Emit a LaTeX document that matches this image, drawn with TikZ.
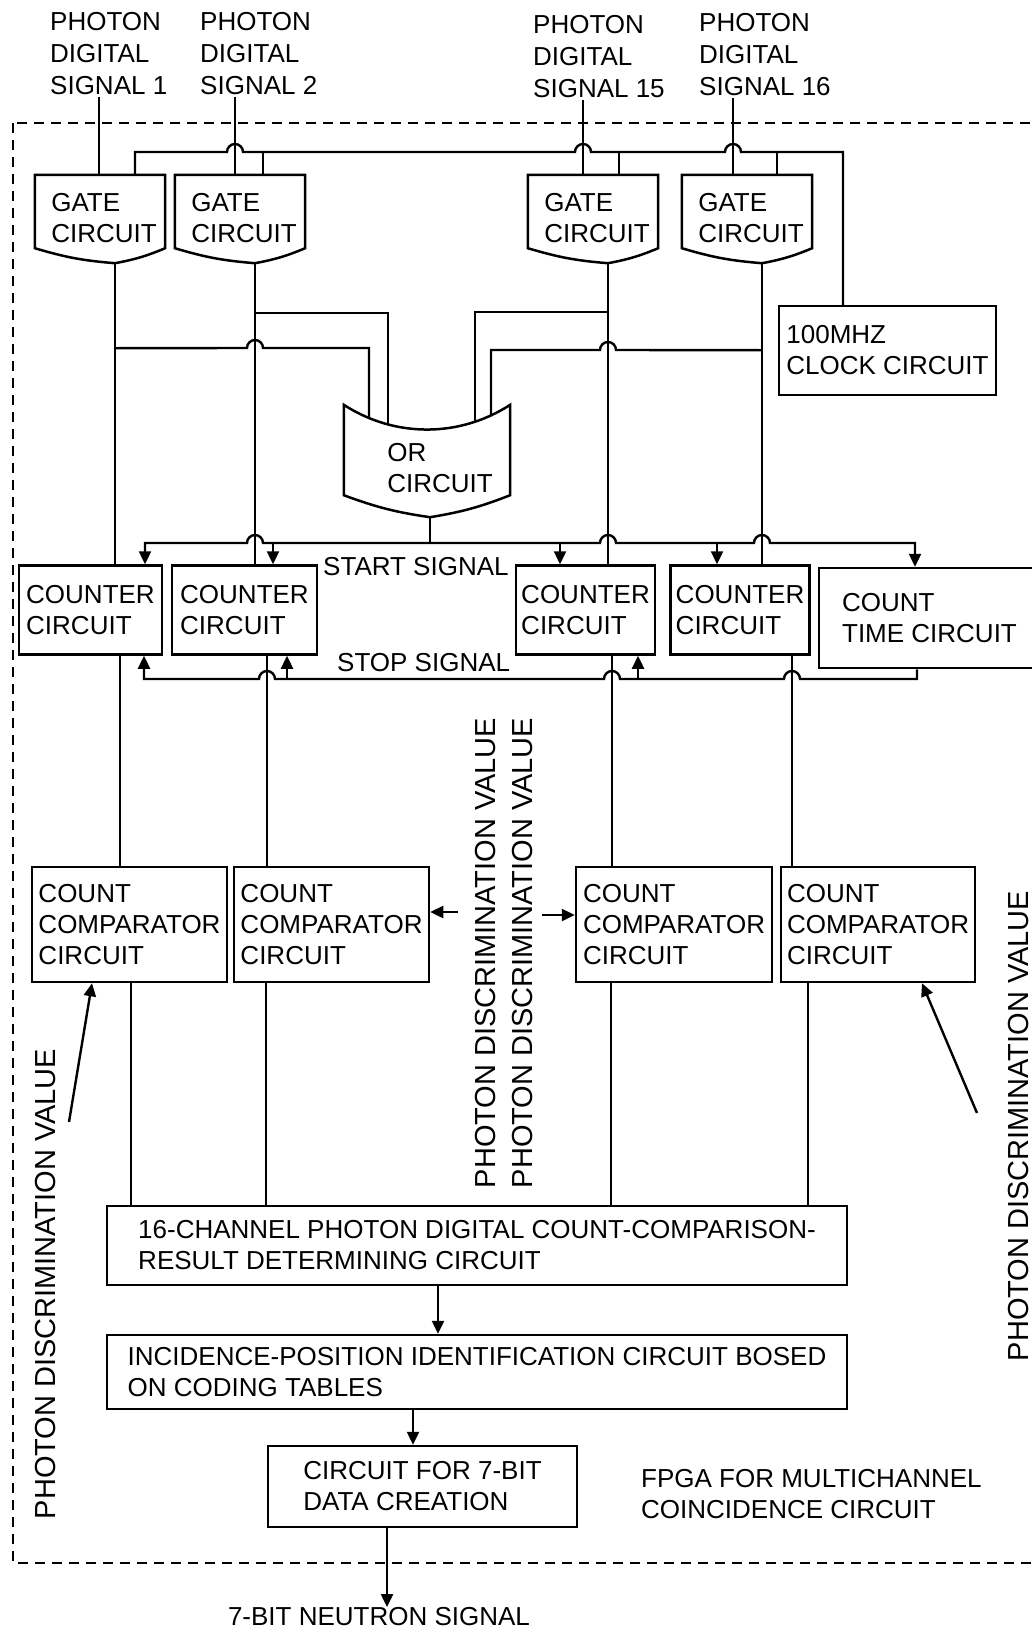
\documentclass[tikz,border=0pt]{standalone}
\usepackage{fontspec}
\setmainfont{Liberation Sans}
\usepackage{tikz}
\usetikzlibrary{arrows.meta,positioning,calc}

\begin{document}
\begin{tikzpicture}[
    x=1pt, y=-1pt,
    every node/.style={font={\fontsize{26}{31}\selectfont}, inner sep=0pt},
    circ/.style={draw, line width=2.5pt, align=left, inner xsep=5pt},
    gate/.style={minimum width=130pt, minimum height=73pt},
    gatetext/.style={align=left, xshift=4pt, yshift=-7pt},
    sig/.style={anchor=north west, align=left, font={\fontsize{26}{32}\selectfont}},
    wire/.style={line width=2.4pt},
    >={Triangle[length=13pt,width=12pt]},
    sidetext/.style={rotate=90, font={\fontsize{29}{34}\selectfont}},
    fpga border/.style={line width=2.2pt, dash pattern=on 10pt off 7pt}
  ]
  \useasboundingbox (0,0) rectangle (1032,1630);

  % FPGA border
  \draw[fpga border] (13,123) rectangle (1045,1563);

  % input signals
  \node[sig] (sig1) at (50,12) {PHOTON\\DIGITAL\\SIGNAL 1};
  \node[sig] (sig2) at (200,12) {PHOTON\\DIGITAL\\SIGNAL 2};
  \node[sig] (sig15) at (533,15) {PHOTON\\DIGITAL\\SIGNAL 15};
  \node[sig] (sig16) at (699,13) {PHOTON\\DIGITAL\\SIGNAL 16};

  % gate circuits
  \node[gate, label={[gatetext]center:{GATE\\CIRCUIT}}] (g1) at (100,211.5) {};
  \node[gate, label={[gatetext]center:{GATE\\CIRCUIT}}] (g2) at (240,211.5) {};
  \node[gate, label={[gatetext]center:{GATE\\CIRCUIT}}] (g15) at (593,211.5) {};
  \node[gate, label={[gatetext]center:{GATE\\CIRCUIT}}] (g16) at (747,211.5) {};
  \foreach \g in {g1,g2,g15,g16} {
    \draw[line width=2.5pt] (\g.north west) -- (\g.north east) -- (\g.south east)
      to[bend left=6] ($(\g.south)+(15,15)$) coordinate (\g o)
      to[bend left=6] (\g.south west) -- cycle;
  }

  % clock circuit
  \node[circ, minimum width=217pt, minimum height=89pt] (clk) at (887.5,350.5) {100MHZ\\CLOCK CIRCUIT};

  % signals into the gates
  \foreach \s/\g/\dx in {sig1/g1/49, sig2/g2/35, sig15/g15/50, sig16/g16/34} {
    \path ($(\s.south west)+(\dx,2)$) coordinate (a);
    \draw[wire] (a) -- (a |- \g.north);
  }

  % clock bus
  \coordinate (bus) at (843,152);
  \draw[wire] ($(g1.north)+(35,0)$) |- (227,152)
    arc[start angle=180, end angle=0, radius=8pt] -- (575,152)
    arc[start angle=180, end angle=0, radius=8pt] -- (725,152)
    arc[start angle=180, end angle=0, radius=8pt] -| (clk.north -| bus);
  \foreach \g/\dx in {g2/23, g15/26, g16/30} {
    \path ($(\g.north)+(\dx,0)$) coordinate (a);
    \draw[wire] (a) -- (a |- bus);
  }

  % OR circuit
  \node[minimum width=166pt, minimum height=90pt,
        label={[align=left, xshift=13pt, yshift=-18pt]center:{OR\\CIRCUIT}}] (or) at (427,450) {};
  \draw[line width=2.5pt] (or.north west)
    .. controls ($(or.north west)+(51,33)$) and ($(or.north east)+(-51,33)$) .. (or.north east)
    -- (or.south east) to[bend left=6] ($(or.south)+(3,22)$) coordinate (oro)
    to[bend left=6] (or.south west) -- cycle;

  % gate outputs to the OR circuit
  \draw[wire] (g1o) ++(0,85) -- (247,348)
    arc[start angle=180, end angle=0, radius=8pt] -| (369,418);
  \draw[wire] (g2o) ++(0,50) -| (388,424);
  \draw[wire] (g15o) ++(0,49) -| (475,422);
  \draw[wire] (g16o) ++(0,87) -- (616,350)
    arc[start angle=0, end angle=180, radius=8pt] -| (491,416);

  % counter circuits
  \node[circ, minimum width=143pt, minimum height=89pt] (c1) at (90.5,610) {COUNTER\\CIRCUIT};
  \node[circ, minimum width=145pt, minimum height=89pt] (c2) at (244.5,610) {COUNTER\\CIRCUIT};
  \node[circ, minimum width=137pt, minimum height=89pt] (c15) at (585.5,610) {COUNTER\\CIRCUIT};
  \node[circ, minimum width=136pt, minimum height=89pt] (c16) at (740,610) {COUNTER\\CIRCUIT};
  \node[circ, minimum width=221pt, minimum height=100pt] (ct) at (929.5,618) {COUNT\\TIME CIRCUIT};

  \foreach \g/\c in {g1/c1, g2/c2, g15/c15, g16/c16}
    \draw[wire] (\g o) -- (\g o |- \c.north);

  % start signal
  \coordinate (start) at (430,543);
  \draw[wire] (oro) -- (oro |- start);
  \draw[wire, <->] ([xshift=54.5pt]c1.north) |- (247,543)
    arc[start angle=180, end angle=0, radius=8pt] -- (600,543)
    arc[start angle=180, end angle=0, radius=8pt] -- (754,543)
    arc[start angle=180, end angle=0, radius=8pt] -| ([xshift=-14.5pt]ct.north);
  \foreach \c/\dx in {c2/28.5, c15/-25.5, c16/-23} {
    \path ([xshift=\dx pt]\c.north) coordinate (a);
    \draw[wire, ->] (a |- start) -- (a);
  }
  \node[anchor=north west] (startlbl) at (323,557) {START SIGNAL};

  % stop signal
  \coordinate (stop) at (430,679);
  \draw[wire, <-] ([xshift=53.5pt]c1.south) |- (259,679)
    arc[start angle=180, end angle=0, radius=8pt] -- (604,679)
    arc[start angle=180, end angle=0, radius=8pt] -- (784,679)
    arc[start angle=180, end angle=0, radius=8pt] -| ([xshift=-12.5pt]ct.south);
  \foreach \c/\dx in {c2/42.5, c15/52.5} {
    \path ([xshift=\dx pt]\c.south) coordinate (a);
    \draw[wire, ->] (a |- stop) -- (a);
  }
  \node[anchor=north west] (stoplbl) at (337,653) {STOP SIGNAL};

  % count comparator circuits
  \node[circ, minimum width=195pt, minimum height=115pt] (cc1) at (129.5,924.5) {COUNT\\COMPARATOR\\CIRCUIT};
  \node[circ, minimum width=195pt, minimum height=115pt] (cc2) at (331.5,924.5) {COUNT\\COMPARATOR\\CIRCUIT};
  \node[circ, minimum width=196pt, minimum height=115pt] (cc15) at (674,924.5) {COUNT\\COMPARATOR\\CIRCUIT};
  \node[circ, minimum width=194pt, minimum height=115pt] (cc16) at (878,924.5) {COUNT\\COMPARATOR\\CIRCUIT};

  \foreach \c/\cc/\dx in {c1/cc1/29.5, c2/cc2/22.5, c15/cc15/26.5, c16/cc16/52} {
    \path ([xshift=\dx pt]\c.south) coordinate (a);
    \draw[wire] (a) -- (a |- \cc.north);
  }

  % photon discrimination values
  \node[sidetext] (pdvl) at (46,1284) {PHOTON DISCRIMINATION VALUE};
  \node[sidetext] (pdva) at (486,953) {PHOTON DISCRIMINATION VALUE};
  \node[sidetext] (pdvb) at (523,953) {PHOTON DISCRIMINATION VALUE};
  \node[sidetext] (pdvr) at (1019,1126) {PHOTON DISCRIMINATION VALUE};
  \coordinate (pl) at (69,1122);
  \coordinate (pa) at (458,912);
  \coordinate (pb) at (542,915);
  \coordinate (pr) at (977,1113);
  \draw[wire, ->] (pl) -- ([xshift=-37.5pt]cc1.south);
  \draw[wire, ->] (pa) -- (pa -| cc2.east);
  \draw[wire, ->] (pb) -- (pb -| cc15.west);
  \draw[wire, ->] (pr) -- ([xshift=44pt]cc16.south);

  % result, identification and data creation
  \node[circ, minimum width=740pt, minimum height=79pt] (res) at (477,1245.5)
    {16-CHANNEL PHOTON DIGITAL COUNT-COMPARISON-\\RESULT DETERMINING CIRCUIT};
  \node[circ, minimum width=740pt, minimum height=74pt] (inc) at (477,1372)
    {INCIDENCE-POSITION IDENTIFICATION CIRCUIT BOSED\\ON CODING TABLES};
  \node[circ, minimum width=309pt, minimum height=81pt] (bit) at (422.5,1486.5)
    {CIRCUIT FOR 7-BIT\\DATA CREATION};
  \node[anchor=north] (out) at (379,1607) {7-BIT NEUTRON SIGNAL};
  \node[anchor=north west, align=left] (fpga) at (641,1469) {FPGA FOR MULTICHANNEL\\COINCIDENCE CIRCUIT};

  \foreach \cc/\dx in {cc1/1.5, cc2/-65.5, cc15/-63, cc16/-70} {
    \path ([xshift=\dx pt]\cc.south) coordinate (a);
    \draw[wire] (a) -- (a |- res.north);
  }
  \path ([xshift=-39pt]res.south) coordinate (a);
  \draw[wire, ->] (a) -- (a |- inc.north);
  \path ([xshift=-9.5pt]bit.north) coordinate (a);
  \draw[wire, ->] (a |- inc.south) -- (a);
  \path ([xshift=-35.5pt]bit.south) coordinate (a);
  \draw[wire, ->] (a) -- (a |- out.north);

\end{tikzpicture}
\end{document}
